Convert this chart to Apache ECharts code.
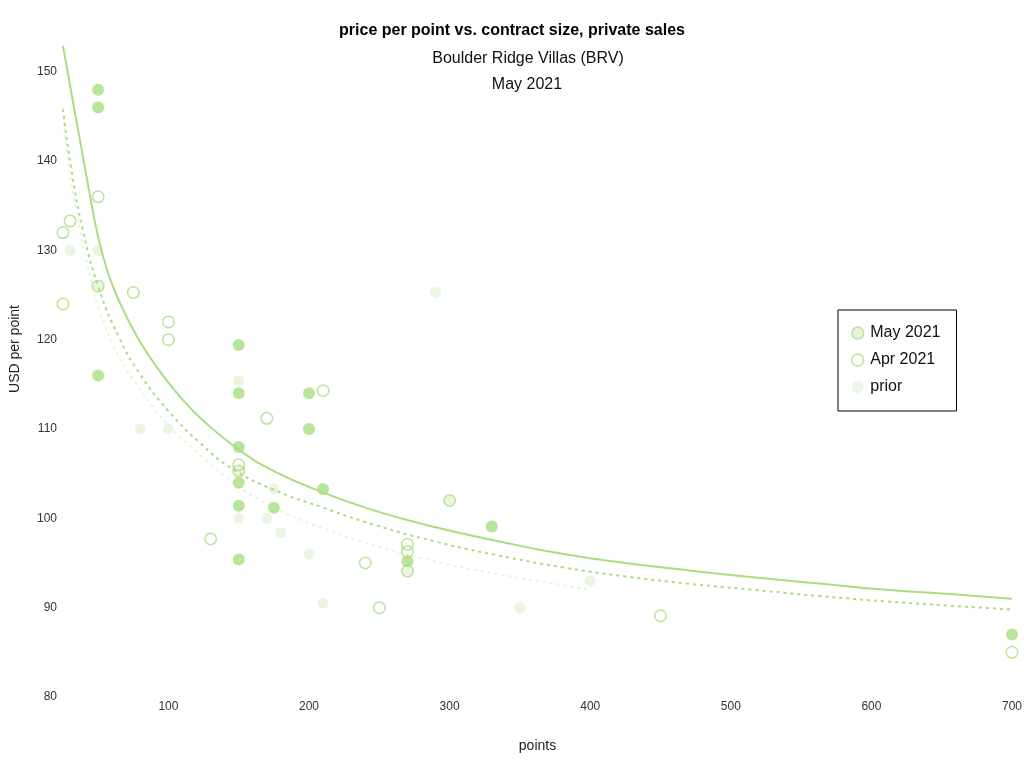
<!DOCTYPE html>
<html>
<head>
<meta charset="utf-8">
<script src="https://cdn.jsdelivr.net/npm/echarts@6/dist/echarts.min.js"></script>
<style>
  html, body { margin: 0; padding: 0; background: #fff; }
  #chart { width: 1024px; height: 768px; }
</style>
</head>
<body>
<div id="chart"></div>
<script>
// ---- data ----
const titleText = 'price per point vs. contract size, private sales';
const subtitle1 = 'Boulder Ridge Villas (BRV)';
const subtitle2 = 'May 2021';
const legendNames = ['May 2021', 'Apr 2021', 'prior'];

// [points, USD per point]
const may2021 = [
  [50, 148], [50, 146], [50, 116], [150, 119.4], [150, 114], [150, 108], [150, 104],
  [150, 101.4], [150, 95.4], [175, 101.2], [200, 114], [200, 110], [210, 103.3],
  [270, 95.2], [330, 99.1], [700, 87]
];
const apr2021 = [
  [25, 132], [25, 124], [30, 133.3], [50, 136], [50, 126], [75, 125.3], [100, 122],
  [100, 120], [130, 97.7], [150, 106], [150, 105.3], [170, 111.2], [210, 114.3],
  [240, 95], [250, 90], [270, 97.1], [270, 96.3], [270, 94.1], [300, 102],
  [450, 89.1], [700, 85]
];
const prior = [
  [30, 130], [50, 130], [50, 126], [80, 110], [100, 110], [150, 115.4], [150, 105.3],
  [150, 100], [170, 100], [175, 103.3], [180, 98.4], [200, 96], [210, 90.5],
  [270, 94.1], [290, 125.3], [300, 102], [350, 90], [400, 93]
];

// trend curves
const mayTrend = [
  [25, 152.9], [31, 147.6], [37, 142.4], [43, 137.2], [50, 131.5], [57, 127.5],
  [65, 124.3], [76, 120.8], [87, 118.0], [100, 115.2], [110, 113.3], [125, 110.9],
  [150, 107.7], [175, 105.3], [210, 102.9], [246, 100.9], [290, 99.0], [333, 97.5],
  [381, 96.0], [425, 95.0], [469, 94.2], [516, 93.4], [563, 92.7], [611, 92.0],
  [658, 91.5], [700, 91.0]
];
const aprTrend = [
  [25, 145.8], [31, 139.0], [39, 132.4], [50, 126.0], [65, 120.2], [80, 116.1],
  [99, 112.2], [122, 108.5], [146, 105.5], [175, 103.2], [210, 101.2], [246, 99.3],
  [290, 97.4], [333, 95.9], [381, 94.5], [425, 93.5], [469, 92.7], [516, 92.0],
  [563, 91.3], [611, 90.7], [658, 90.2], [700, 89.8]
];
const priorTrend = [
  [25, 146.0], [29, 139.5], [37, 132.3], [46, 126.0], [51, 123.2], [62, 119.0],
  [75, 115.5], [99, 110.6], [122, 107.2], [146, 104.0], [175, 101.2], [210, 98.9],
  [246, 97.0], [286, 95.3], [333, 93.8], [381, 92.5], [400, 92.0]
];

const GREEN = '#aadd82';
const PALE = '#e6f4da';
const FONT = '"Liberation Sans", Arial, sans-serif';

const chart = echarts.init(document.getElementById('chart'), null, { renderer: 'canvas' });
chart.setOption({
  backgroundColor: '#ffffff',
  animation: false,
  textStyle: { fontFamily: FONT },
  title: [
    { text: titleText, left: 'center', top: 18,
      textStyle: { fontFamily: FONT, fontSize: 16, fontWeight: 'bold', color: '#000' } },
    { text: subtitle1, left: 523, textAlign: 'center', top: 46,
      textStyle: { fontFamily: FONT, fontSize: 16, fontWeight: 'normal', color: '#111' } },
    { text: subtitle2, left: 522, textAlign: 'center', top: 72,
      textStyle: { fontFamily: FONT, fontSize: 16, fontWeight: 'normal', color: '#111' } }
  ],
  legend: {
    orient: 'vertical',
    left: 838, top: 310,
    padding: [15, 16, 16, 13],
    borderColor: '#000', borderWidth: 1,
    itemWidth: 15, itemHeight: 12, itemGap: 11,
    textStyle: { fontFamily: FONT, fontSize: 16, color: '#111' },
    data: [
      { name: legendNames[0], icon: 'circle', itemStyle: { color: '#e0f2cf', borderColor: GREEN, borderWidth: 1.5 } },
      { name: legendNames[1], icon: 'circle', itemStyle: { color: '#ffffff', borderColor: GREEN, borderWidth: 1.5 } },
      { name: legendNames[2], icon: 'circle', itemStyle: { color: PALE, borderWidth: 0 } }
    ]
  },
  grid: { left: 63, right: 12, top: 45, bottom: 71, containLabel: false, outerBoundsMode: 'none' },
  xAxis: {
    type: 'value', min: 25, max: 700, splitNumber: 7,
    name: 'points', nameLocation: 'middle', nameGap: 42,
    nameTextStyle: { fontFamily: FONT, fontSize: 14, color: '#222' },
    axisLine: { show: false }, axisTick: { show: false }, splitLine: { show: false },
    axisLabel: { showMinLabel: false, margin: 4, fontFamily: FONT, fontSize: 12, color: '#333' }
  },
  yAxis: {
    type: 'value', min: 80, max: 153, interval: 10,
    name: 'USD per point', nameLocation: 'middle', nameGap: 41, nameRotate: 90,
    nameTextStyle: { fontFamily: FONT, fontSize: 14, color: '#222', padding: [0, 0, 0, 44] },
    axisLine: { show: false }, axisTick: { show: false }, splitLine: { show: false },
    axisLabel: { showMaxLabel: false, margin: 6, fontFamily: FONT, fontSize: 12, color: '#333' }
  },
  series: [
    { name: legendNames[2], type: 'scatter', data: prior, symbol: 'circle', symbolSize: 11, clip: false,
      itemStyle: { color: PALE }, z: 1 },
    { name: 'prior trend', type: 'line', data: priorTrend, smooth: 0.5, symbol: 'none', clip: false,
      lineStyle: { color: '#e8f5dc', width: 2, type: [3, 4] }, z: 2 },
    { name: 'Apr trend', type: 'line', data: aprTrend, smooth: 0.5, symbol: 'none', clip: false,
      lineStyle: { color: GREEN, width: 2, type: [3, 4] }, z: 3 },
    { name: 'May trend', type: 'line', data: mayTrend, smooth: 0.5, symbol: 'none', clip: false,
      lineStyle: { color: GREEN, width: 2 }, z: 4 },
    { name: legendNames[1], type: 'scatter', data: apr2021, symbol: 'circle', symbolSize: 11.5, clip: false,
      itemStyle: { color: 'rgba(255,255,255,0)', borderColor: GREEN, borderWidth: 1.5 }, z: 5 },
    { name: legendNames[0], type: 'scatter', data: may2021, symbol: 'circle', symbolSize: 12, clip: false,
      itemStyle: { color: GREEN }, z: 6 }
  ]
});
</script>
</body>
</html>
